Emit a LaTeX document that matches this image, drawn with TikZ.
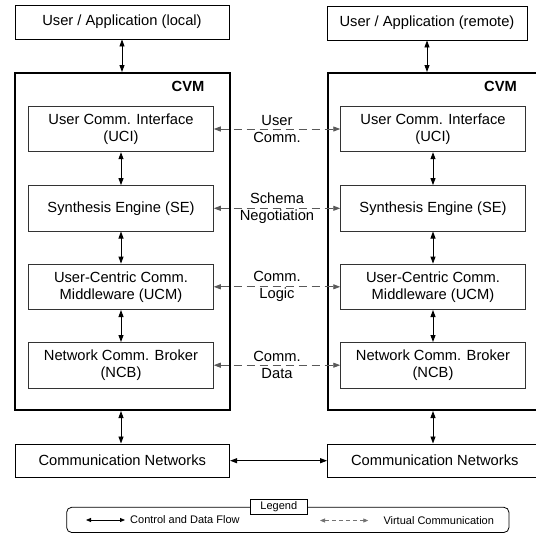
\documentclass[tikz,border=0pt]{standalone}
\usepackage{fontspec}
\setmainfont{Liberation Sans}
\usetikzlibrary{positioning,arrows.meta}

\begin{document}
\begin{tikzpicture}[x=1pt,y=-1pt,
			every node/.style={font=\fontsize{14.7}{17}\selectfont,inner sep=0pt},
			box/.style={draw,line width=0.9pt,minimum width=214pt,minimum height=34pt},
			cvmbox/.style={draw,line width=2pt,minimum width=214.5pt,minimum height=337pt},
			layer/.style={draw,line width=0.9pt,draw=black!80,align=center,minimum width=184.6pt,minimum height=45.5pt},
			cvmlabel/.style={font=\fontsize{14.7}{17}\selectfont\bfseries},
			small/.style={font=\fontsize{11}{13}\selectfont},
			flow/.style={line width=0.9pt,{Triangle[length=7pt,width=5pt]}-{Triangle[length=7pt,width=5pt]}},
			virtual/.style={line width=0.9pt,draw=black!65,dash pattern=on 8pt off 5pt,{Triangle[length=7pt,width=5pt]}-{Triangle[length=7pt,width=5pt]}},
			legendflow/.style={line width=0.8pt,{Triangle[length=5pt,width=4pt]}-{Triangle[length=5pt,width=4pt]}},
			legendvirtual/.style={line width=0.8pt,draw=black!55,dash pattern=on 4pt off 3pt,{Triangle[length=5pt,width=4pt]}-{Triangle[length=5pt,width=4pt]}}
			]
		\useasboundingbox (0,0) rectangle (536,533);
		\node[box] (appl) at (122,22) {User / Application (local)};
		\node[box,minimum width=200pt] (appr) at (427,23) {User / Application (remote)};
		\node[cvmbox] (cvml) at (122.3,241.5) {};
		\node[cvmbox] (cvmr) at (434.8,241.5) {};
		\node[cvmlabel] (cvmtl) at (188,86) {CVM};
		\node[cvmlabel] (cvmtr) at (500.5,86) {CVM};
		\node[layer] (ucil) at (121,129) {User Comm. Interface\\(UCI)};
		\node[layer] (sel) at (121,208.3) {Synthesis Engine (SE)};
		\node[layer] (ucml) at (121,286.8) {User-Centric Comm.\\Middleware (UCM)};
		\node[layer] (ncbl) at (121,365.2) {Network Comm. Broker\\(NCB)};
		\node[layer] (ucir) at (433,129) {User Comm. Interface\\(UCI)};
		\node[layer] (ser) at (433,208.3) {Synthesis Engine (SE)};
		\node[layer] (ucmr) at (433,286.8) {User-Centric Comm.\\Middleware (UCM)};
		\node[layer] (ncbr) at (433,365.2) {Network Comm. Broker\\(NCB)};
		\node[box,minimum width=214.7pt,minimum height=33.5pt] (coml) at (122.3,460.7) {Communication Networks};
		\node[box,minimum width=214.5pt,minimum height=33.5pt] (comr) at (434.8,460.7) {Communication Networks};

		\draw[flow] (appl.south) -- (appl.south |- cvml.north);
		\draw[flow] (appr.south) -- (appr.south |- cvmr.north);
		\draw[flow] (ucil) -- (sel);
		\draw[flow] (sel) -- (ucml);
		\draw[flow] (ucml) -- (ncbl);
		\draw[flow] (ucir) -- (ser);
		\draw[flow] (ser) -- (ucmr);
		\draw[flow] (ucmr) -- (ncbr);
		\draw[flow] (ncbl.south |- cvml.south) -- (ncbl.south |- coml.north);
		\draw[flow] (ncbr.south |- cvmr.south) -- (ncbr.south |- comr.north);
		\draw[flow] (coml) -- (comr);

		\draw[virtual] (ucil) -- (ucir) node[midway,align=center] {User\\Comm.};
		\draw[virtual] (sel) -- (ser) node[midway,align=center] {Schema\\Negotiation};
		\draw[virtual] (ucml) -- (ucmr) node[midway,align=center] {Comm.\\Logic};
		\draw[virtual] (ncbl) -- (ncbr) node[midway,align=center] {Comm.\\Data};

		\node[draw,line width=0.8pt,rounded corners=5pt,minimum width=442.3pt,minimum height=25.2pt] (legend) at (287.8,519.9) {};
		\node[draw,line width=0.8pt,fill=white,small,minimum width=57.7pt,minimum height=15pt] (legendtab) at (278.8,506.5) {Legend};
		\node[small,anchor=west] (flowtext) at (130,520) {Control and Data Flow};
		\node[small,anchor=west] (virttext) at (383.3,520.5) {Virtual Communication};
		\coordinate (flowa) at (86,520);
		\coordinate (virta) at (320,520.5);
		\draw[legendflow] (flowa) -- ([xshift=-5pt]flowtext.west);
		\draw[legendvirtual] (virta) -- ([xshift=-15pt]virttext.west);
	\end{tikzpicture}
\end{document}
